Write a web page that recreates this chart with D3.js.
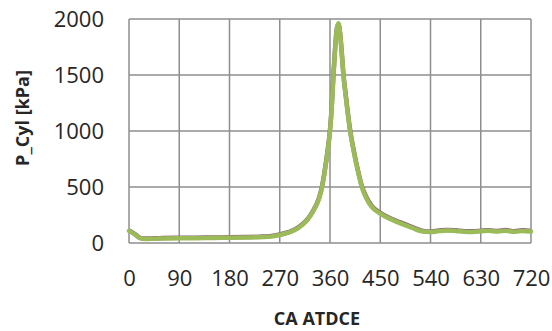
<!DOCTYPE html>
<html>
<head>
<meta charset="utf-8">
<script src="https://cdn.jsdelivr.net/npm/d3@7"></script>
<style>
  body { margin: 0; background: #fff; }
  text { font-family: "Open Sans", sans-serif; fill: #262626; }
</style>
</head>
<body>
<div id="chart"></div>
<script>
// Crank angle values (deg ATDCE)
var crankAngle = [0, 10, 20, 30, 45, 60, 90, 120, 150, 180, 210, 240, 252, 270, 285, 297, 310, 320, 330, 340, 345, 350, 355, 360, 363, 366, 369, 372, 375, 378, 381, 384, 388, 392, 396, 402, 410, 417, 425, 435, 450, 465, 485, 505, 527, 540, 555, 570, 585, 600, 615, 630, 645, 660, 675, 690, 705, 720];

// Measured cylinder pressure [kPa]
var pMeasured = [108, 78, 42, 36, 38, 40, 42, 43, 45, 47, 49, 53, 57, 72, 92, 116, 160, 210, 285, 390, 480, 620, 790, 1000, 1200, 1480, 1720, 1900, 1962, 1880, 1700, 1500, 1320, 1150, 1000, 830, 640, 500, 400, 320, 262, 220, 178, 140, 102, 98, 106, 112, 108, 101, 99, 104, 109, 102, 110, 100, 108, 102];

// Simulated cylinder pressure [kPa]
var pSimulated = [112, 82, 46, 40, 42, 44, 46, 47, 49, 51, 53, 57, 61, 76, 96, 120, 165, 215, 290, 398, 488, 628, 800, 1010, 1210, 1490, 1730, 1905, 1955, 1875, 1705, 1508, 1330, 1160, 1010, 840, 650, 510, 410, 330, 270, 228, 186, 147, 108, 103, 111, 117, 113, 106, 104, 109, 114, 107, 115, 105, 113, 107];

var xTicks = [0, 90, 180, 270, 360, 450, 540, 630, 720];
var yTicks = [0, 500, 1000, 1500, 2000];

var svgWidth = 552;
var svgHeight = 331;

var chartMargin = { top: 19, right: 21, bottom: 88, left: 129 };

var chartWidth = svgWidth - chartMargin.left - chartMargin.right;
var chartHeight = svgHeight - chartMargin.top - chartMargin.bottom;

var svg = d3.select("#chart")
  .append("svg")
  .attr("width", svgWidth)
  .attr("height", svgHeight);

var chartGroup = svg.append("g")
  .attr("transform", `translate(${chartMargin.left}, ${chartMargin.top})`);

var xScale = d3.scaleLinear().domain([0, 720]).range([0, chartWidth]);
var yScale = d3.scaleLinear().domain([0, 2000]).range([chartHeight, 0]);

// grid lines
chartGroup.append("g")
  .selectAll("line.v")
  .data(xTicks)
  .join("line")
  .attr("x1", d => xScale(d))
  .attr("x2", d => xScale(d))
  .attr("y1", 0)
  .attr("y2", chartHeight)
  .attr("stroke", "#8e8e8e")
  .attr("stroke-width", 1.5);

chartGroup.append("g")
  .selectAll("line.h")
  .data(yTicks)
  .join("line")
  .attr("x1", 0)
  .attr("x2", chartWidth)
  .attr("y1", d => yScale(d))
  .attr("y2", d => yScale(d))
  .attr("stroke", "#8e8e8e")
  .attr("stroke-width", 1.5);

// axes (labels only)
var bottomAxis = d3.axisBottom(xScale).tickValues(xTicks).tickFormat(d3.format("d")).tickSize(0).tickPadding(30);
var leftAxis = d3.axisLeft(yScale).tickValues(yTicks).tickFormat(d3.format("d")).tickSize(0).tickPadding(25);

var xAxis = chartGroup.append("g")
  .attr("transform", `translate(0, ${chartHeight})`)
  .call(bottomAxis);
var yAxis = chartGroup.append("g").call(leftAxis);

[xAxis, yAxis].forEach(function(ax) {
  ax.select(".domain").remove();
  ax.selectAll("text")
    .style("font-family", "'Open Sans', sans-serif")
    .style("font-size", "22px")
    .attr("fill", "#262626");
});
yAxis.selectAll("text").attr("dy", "0.36em");
xAxis.selectAll("text").attr("dy", "0.6em");

// lines
var lineGen = function(values) {
  return d3.line()
    .x((d, i) => xScale(crankAngle[i]))
    .y(d => yScale(d))
    .curve(d3.curveMonotoneX)(values);
};

chartGroup.append("path")
  .attr("d", lineGen(pSimulated))
  .attr("fill", "none")
  .attr("stroke", "#8f5f78")
  .attr("stroke-width", 4.5)
  .attr("stroke-linejoin", "round");

chartGroup.append("path")
  .attr("d", lineGen(pMeasured))
  .attr("fill", "none")
  .attr("stroke", "#9bbb59")
  .attr("stroke-width", 4.5)
  .attr("stroke-linejoin", "round")
  .attr("stroke-linecap", "round");

// axis titles
svg.append("text")
  .attr("x", 317)
  .attr("y", 325)
  .attr("text-anchor", "middle")
  .style("font-weight", "bold")
  .style("font-size", "18px")
  .text("CA ATDCE");

svg.append("text")
  .attr("transform", "translate(29, 118) rotate(-90)")
  .attr("text-anchor", "middle")
  .style("font-weight", "bold")
  .style("font-size", "18px")
  .text("P_Cyl [kPa]");
</script>
</body>
</html>
